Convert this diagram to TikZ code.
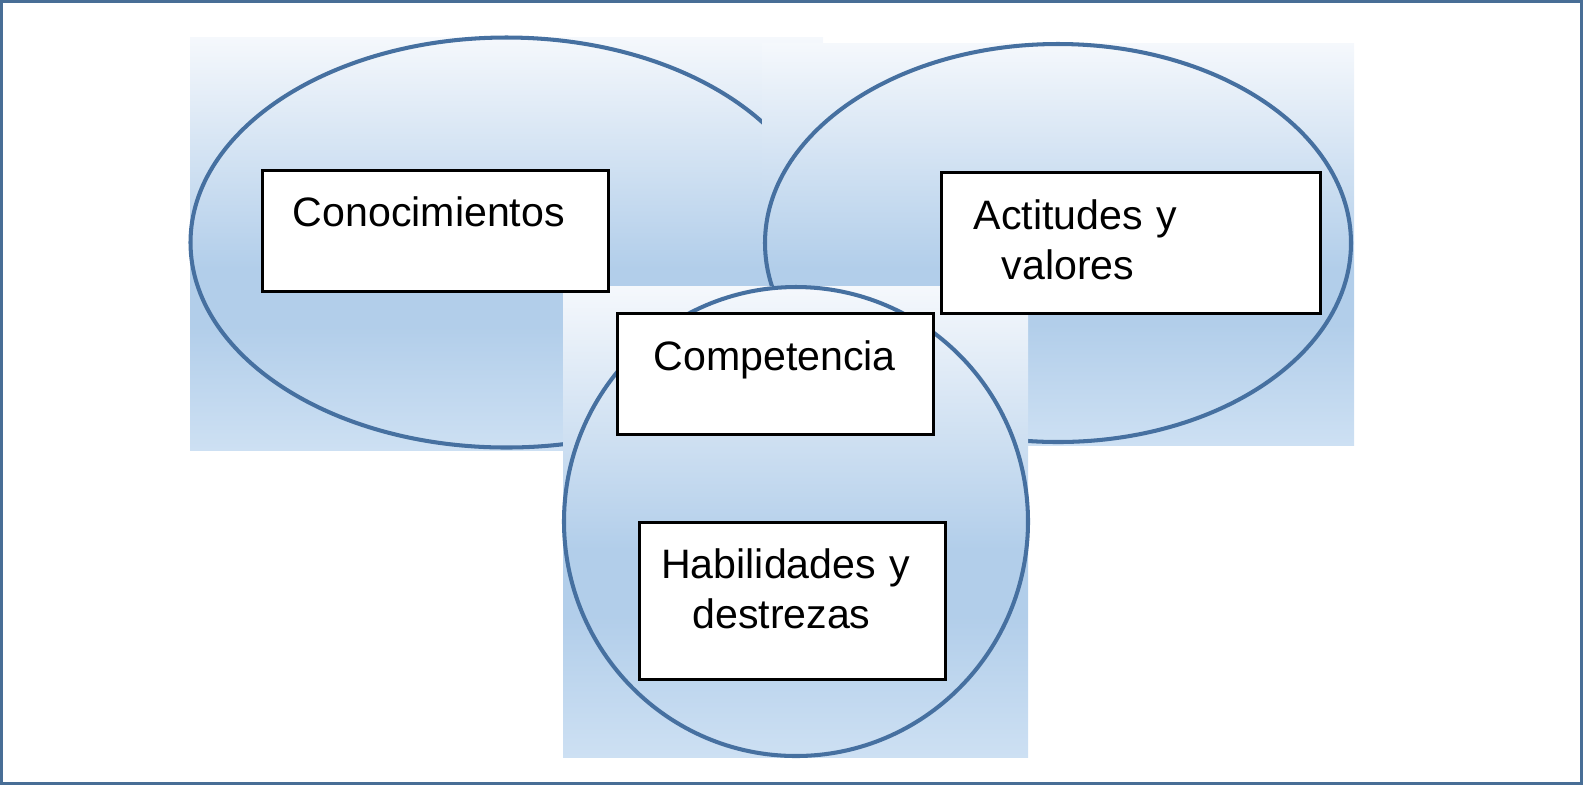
\documentclass[tikz,border=0pt]{standalone}
\usepackage{fontspec}
\setmainfont{Liberation Sans}
\usepackage{xcolor}
\definecolor{shtop}{RGB}{245,248,252}
\definecolor{shmid}{RGB}{178,206,234}
\definecolor{shbot}{RGB}{205,224,243}
\definecolor{rimblue}{RGB}{70,112,160}
\definecolor{frameblue}{RGB}{72,110,150}
\pgfdeclareverticalshading{wordblue}{100bp}{color(0bp)=(shbot); color(25bp)=(shbot); color(40bp)=(shmid); color(47bp)=(shmid); color(75bp)=(shtop); color(100bp)=(shtop)}
\newcommand{\boxfont}{\fontsize{11.7pt}{14.2pt}\selectfont}

\begin{document}
\begin{tikzpicture}[
  rim/.style={draw=rimblue, line width=1.15pt},
  tbox/.style={draw=black, line width=0.9pt, fill=white, anchor=north west,
    inner ysep=0pt, align=left, font=\boxfont}]
  \useasboundingbox (0,0) rectangle (15.84,-7.87);
  % Conocimientos
  \shade[shading=wordblue] (1.90,-0.37) rectangle (8.23,-4.50);
  \draw[rim] (5.065,-2.425) ellipse [x radius=3.16, y radius=2.05];
  % Actitudes y valores
  \shade[shading=wordblue] (7.62,-0.43) rectangle (13.54,-4.45);
  \draw[rim] (10.58,-2.43) ellipse [x radius=2.93, y radius=1.99];
  % Habilidades y destrezas
  \shade[shading=wordblue] (5.63,-2.86) rectangle (10.28,-7.57);
  \draw[rim] (7.96,-5.215) ellipse [x radius=2.32, y radius=2.345];
  % text boxes
  \node[tbox, inner xsep=0.30cm, text width=2.86cm, text height=0.565cm, text depth=0.645cm]
    (conoc) at (2.613,-1.685) {Conocimientos};
  \node[tbox, inner xsep=0.32cm, text width=3.152cm, text height=0.573cm, text depth=0.843cm]
    (actit) at (9.40,-1.707) {Actitudes y\\\hspace*{0.28cm}valores};
  \node[tbox, inner xsep=0.363cm, text width=2.434cm, text height=0.567cm, text depth=0.637cm]
    (compet) at (6.157,-3.123) {Competencia};
  \node[tbox, inner xsep=0.22cm, text width=2.623cm, text height=0.56cm, text depth=1.013cm]
    (habil) at (6.377,-5.21) {Habilidades y\\\hspace*{0.31cm}destrezas};
  % frame
  \draw[frameblue, line width=1.1pt] (0.015,-0.01) rectangle (15.815,-7.835);
\end{tikzpicture}
\end{document}
